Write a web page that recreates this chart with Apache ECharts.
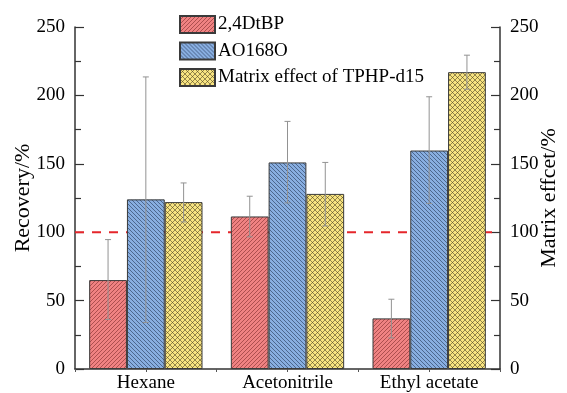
<!DOCTYPE html>
<html>
<head>
<meta charset="utf-8">
<script src="https://cdn.jsdelivr.net/npm/echarts@6/dist/echarts.min.js"></script>
<style>
html,body{margin:0;padding:0;background:#fff;}
#chart{width:567px;height:393px;}
</style>
</head>
<body>
<div id="chart"></div>
<script>
// ---- data ----
var categories = ['Hexane', 'Acetonitrile', 'Ethyl acetate'];
var seriesNames = ['2,4DtBP', 'AO168O', 'Matrix effect of TPHP-d15'];
var dtbpValues = [65, 111.5, 37];
var dtbpUpper = [94.6, 126.3, 51];
var dtbpLower = [36.2, 96.6, 22.7];
var ao168oValues = [124, 151, 159.7];
var ao168oUpper = [213.5, 181, 199];
var ao168oLower = [34, 121.4, 121];
var matrixValues = [122, 128, 217];
var matrixUpper = [136, 151, 229.4];
var matrixLower = [107.5, 104.6, 204.5];
var referenceLevel = 100;
var yTicks = [0, 50, 100, 150, 200, 250];

// ---- patterns ----
function makePattern(bg, line, kind) {
  var s = kind === 'cross' ? 5 : 4;
  var c = document.createElement('canvas');
  c.width = s; c.height = s;
  var ctx = c.getContext('2d');
  ctx.fillStyle = bg;
  ctx.fillRect(0, 0, s, s);
  ctx.strokeStyle = line;
  ctx.lineWidth = 0.8;
  function fwd() {
    ctx.beginPath();
    ctx.moveTo(-1, s + 1); ctx.lineTo(s + 1, -1);
    ctx.moveTo(-1, 1); ctx.lineTo(1, -1);
    ctx.moveTo(s - 1, s + 1); ctx.lineTo(s + 1, s - 1);
    ctx.stroke();
  }
  function back() {
    ctx.beginPath();
    ctx.moveTo(-1, -1); ctx.lineTo(s + 1, s + 1);
    ctx.moveTo(s - 1, -1); ctx.lineTo(s + 1, 1);
    ctx.moveTo(-1, s - 1); ctx.lineTo(1, s + 1);
    ctx.stroke();
  }
  if (kind === 'fwd') fwd();
  else if (kind === 'back') back();
  else { fwd(); back(); }
  return { image: c, repeat: 'repeat' };
}
var patRed = makePattern('#f08282', 'rgba(120,40,40,0.7)', 'fwd');
var patBlue = makePattern('#88aee0', 'rgba(35,55,85,0.75)', 'back');
var patYellow = makePattern('#f8e480', 'rgba(70,60,30,0.7)', 'cross');

var values = [dtbpValues, ao168oValues, matrixValues];
var uppers = [dtbpUpper, ao168oUpper, matrixUpper];
var lowers = [dtbpLower, ao168oLower, matrixLower];
var pats = [patRed, patBlue, patYellow];

var font = '"Liberation Serif", "Times New Roman", serif';
var series = [];
for (var i = 0; i < 3; i++) {
  series.push({
    name: seriesNames[i],
    type: 'bar',
    xAxisIndex: 0,
    yAxisIndex: 0,
    barGap: '0%',
    barCategoryGap: '20%',
    z: 2,
    data: values[i],
    itemStyle: { color: pats[i], borderColor: '#3a3a3a', borderWidth: 1 }
  });
}
// error bars
for (var k = 0; k < 3; k++) {
  (function (idx) {
    var d = [];
    for (var j = 0; j < categories.length; j++) d.push([j, lowers[idx][j], uppers[idx][j]]);
    series.push({
      type: 'custom',
      xAxisIndex: 0,
      yAxisIndex: 0,
      z: 5,
      silent: true,
      data: d,
      renderItem: function (params, api) {
        var cat = api.value(0);
        var lo = api.coord([cat, api.value(1)]);
        var hi = api.coord([cat, api.value(2)]);
        var bw = api.size([1, 0])[0] * 0.8 / 3;
        var x = lo[0] + (idx - 1) * bw;
        var cap = 3;
        var st = { stroke: '#929292', lineWidth: 1 };
        return {
          type: 'group',
          children: [
            { type: 'line', shape: { x1: x, y1: lo[1], x2: x, y2: hi[1] }, style: st },
            { type: 'line', shape: { x1: x - cap, y1: hi[1], x2: x + cap, y2: hi[1] }, style: st },
            { type: 'line', shape: { x1: x - cap, y1: lo[1], x2: x + cap, y2: lo[1] }, style: st }
          ]
        };
      }
    });
  })(k);
}
// reference dashed line across whole plot (behind bars)
series.push({
  type: 'line',
  xAxisIndex: 2,
  yAxisIndex: 0,
  z: 1,
  silent: true,
  symbol: 'none',
  data: [[0, referenceLevel], [1, referenceLevel]],
  lineStyle: { color: '#e5262b', width: 2, type: [9, 8] }
});

var axisLineStyle = { color: '#333', width: 1.5 };
var yAxisCommon = {
  type: 'value',
  min: yTicks[0],
  max: yTicks[yTicks.length - 1],
  interval: 50,
  nameLocation: 'middle',
  nameRotate: 90,
  nameMoveOverlap: false,
  nameTextStyle: { fontFamily: font, fontSize: 22, color: '#000' },
  axisLine: { show: true, lineStyle: axisLineStyle },
  axisTick: { show: true, inside: true, length: 9, lineStyle: { color: '#333', width: 1.2 } },
  minorTick: { show: true, splitNumber: 2, length: 6, lineStyle: { color: '#333', width: 1.2 } },
  splitLine: { show: false },
  axisLabel: { fontFamily: font, fontSize: 19, color: '#000', margin: 10 }
};

var option = {
  animation: false,
  backgroundColor: '#fff',
  textStyle: { fontFamily: font },
  grid: { left: 75, right: 67, top: 27, bottom: 24, outerBoundsMode: 'none', containLabel: false },
  legend: {
    orient: 'vertical',
    left: 179,
    top: 15,
    padding: 0,
    icon: 'rect',
    itemWidth: 35,
    itemHeight: 17,
    itemGap: 7.5,
    data: seriesNames,
    textStyle: { fontFamily: font, fontSize: 19, color: '#000', padding: [0, 0, 0, -2] }
  },
  xAxis: [
    {
      type: 'category',
      data: categories,
      position: 'bottom',
      axisLine: { show: true, lineStyle: axisLineStyle },
      axisTick: { show: true, length: 3, lineStyle: { color: '#555' } },
      axisLabel: { fontFamily: font, fontSize: 19, color: '#000', margin: 5 }
    },
    {
      type: 'category',
      data: categories,
      position: 'bottom',
      axisLine: { show: false },
      axisTick: { show: true, alignWithLabel: true, length: 3, lineStyle: { color: '#555' } },
      axisLabel: { show: false }
    },
    { type: 'value', min: 0, max: 1, show: false }
  ],
  yAxis: [
    Object.assign({}, yAxisCommon, { name: 'Recovery/%', position: 'left', nameGap: 41 }),
    Object.assign({}, yAxisCommon, { name: 'Matrix effcet/%', position: 'right', nameGap: 38 })
  ],
  series: series
};

var chart = echarts.init(document.getElementById('chart'), null, { renderer: 'canvas' });
chart.setOption(option);
</script>
</body>
</html>
